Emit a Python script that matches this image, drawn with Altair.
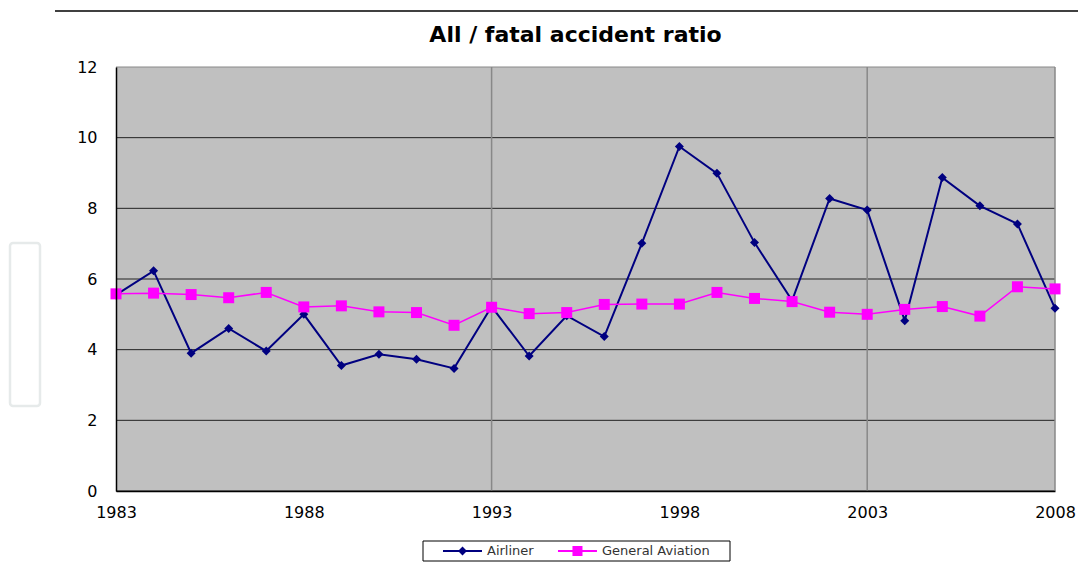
import altair as alt
import pandas as pd

years = [1983, 1984, 1985, 1986, 1987, 1988, 1989, 1990, 1991, 1992, 1993, 1994, 1995,
         1996, 1997, 1998, 1999, 2000, 2001, 2002, 2003, 2004, 2005, 2006, 2007, 2008]
airliner = [5.55, 6.23, 3.90, 4.60, 3.96, 5.00, 3.55, 3.87, 3.73, 3.47, 5.22, 3.82, 4.96,
            4.37, 7.01, 9.75, 8.99, 7.03, 5.39, 8.28, 7.95, 4.82, 8.87, 8.07, 7.56, 5.17]
general_aviation = [5.58, 5.60, 5.56, 5.47, 5.62, 5.21, 5.24, 5.07, 5.05, 4.69, 5.20, 5.02, 5.05,
                    5.28, 5.29, 5.29, 5.62, 5.45, 5.36, 5.06, 5.00, 5.14, 5.22, 4.95, 5.78, 5.72]
series_names = ["Airliner", "General Aviation"]
series_colors = ["#000080", "#FF00FF"]
x_label_years = [1983, 1988, 1993, 1998, 2003, 2008]
x_grid_years = [1993, 2003, 2008]
y_ticks = [0, 2, 4, 6, 8, 10, 12]

rows = []
for name, vals in zip(series_names, [airliner, general_aviation]):
    for yr, v in zip(years, vals):
        rows.append({"year": yr, "value": v, "series": name})
df = pd.DataFrame(rows)

FONT = "DejaVu Sans"
W, H = 939, 424

# legend symbols: a short (filled, thin) line with the series marker on it
line_part = "M1.14,-0.14H6.71V0.14H1.14Z"
legend_paths = [
    line_part + "M3.93,-0.64L4.57,0L3.93,0.64L3.29,0Z",
    line_part + "M3.21,-0.71H4.64V0.71H3.21Z",
]
legend_x = [307, 422]

color_scale = alt.Scale(domain=series_names, range=series_colors)

x_enc = alt.X(
    "year:Q",
    scale=alt.Scale(domain=[1983, 2008], nice=False, zero=False),
    axis=alt.Axis(values=x_label_years, format="d", grid=False, ticks=False, title=None, zindex=1,
                  labelPadding=13, labelFlush=False, labelOverlap=False, labelBound=False),
)
y_enc = alt.Y(
    "value:Q",
    scale=alt.Scale(domain=[0, 12], nice=False),
    axis=alt.Axis(values=y_ticks, grid=False, ticks=False, title=None, labelPadding=19, zindex=1),
)

deco = pd.DataFrame({"k": [0]})
top_rule = alt.Chart(deco).mark_rule(color="#000000", strokeWidth=1.5).encode(
    x=alt.value(55 - 116), x2=alt.value(1086 - 116), y=alt.value(11 - 67)
)
side_box = alt.Chart(deco).mark_rect(fill="white", stroke="#e6eaea", strokeWidth=2.5, cornerRadius=3).encode(
    x=alt.value(10 - 116), x2=alt.value(40 - 116), y=alt.value(243 - 67), y2=alt.value(406 - 67)
)
legend_box = alt.Chart(deco).mark_rect(fill="white", stroke="black", strokeWidth=1).encode(
    x=alt.value(423 - 116), x2=alt.value(730 - 116), y=alt.value(541 - 67), y2=alt.value(561 - 67)
)
plot_bg = alt.Chart(deco).mark_rect(fill="#C0C0C0").encode(
    x=alt.value(0), x2=alt.value(W), y=alt.value(0), y2=alt.value(H)
)

hgrid = alt.Chart(pd.DataFrame({"value": y_ticks})).mark_rule(strokeWidth=1).encode(
    y=alt.Y("value:Q"),
    color=alt.condition("datum.value == 12", alt.value("#888888"), alt.value("#222222")),
)
vrules = alt.Chart(pd.DataFrame({"year": x_grid_years})).mark_rule(color="#888888", strokeWidth=1.5).encode(
    x=alt.X("year:Q")
)

lines = alt.Chart(df).mark_line().encode(
    x=x_enc,
    y=y_enc,
    color=alt.Color("series:N", scale=color_scale, legend=None),
    strokeWidth=alt.StrokeWidth("series:N", scale=alt.Scale(domain=series_names, range=[2, 1.5]), legend=None),
    order=alt.Order("year:Q"),
)

points = alt.Chart(df).mark_point(filled=True, opacity=1).encode(
    x=alt.X("year:Q"),
    y=alt.Y("value:Q"),
    color=alt.Color("series:N", scale=color_scale, legend=None),
    shape=alt.Shape("series:N", scale=alt.Scale(domain=series_names, range=["diamond", "square"]), legend=None),
    size=alt.Size("series:N", scale=alt.Scale(domain=series_names, range=[81, 121]), legend=None),
)

# legend-only layers (no rows drawn), one per series
legend_layers = []
for name, col, path, lx in zip(series_names, series_colors, legend_paths, legend_x):
    legend_layers.append(
        alt.Chart(df).transform_filter("false").mark_point(
            filled=True, opacity=1, size=196, shape=path
        ).encode(
            fill=alt.Fill(
                "series:N",
                scale=alt.Scale(domain=[name], range=[col]),
                legend=alt.Legend(
                    title=None, orient="none", legendX=lx, legendY=472,
                    direction="horizontal", padding=5,
                    symbolType=path, symbolSize=196, symbolStrokeWidth=0, symbolOpacity=1,
                    labelOffset=45, labelFont=FONT, labelFontSize=13, labelColor="#333333",
                ),
            )
        )
    )

chart = alt.layer(
    top_rule, side_box, legend_box, plot_bg, hgrid, vrules, lines, points, *legend_layers
).resolve_scale(
    shape="independent", fill="independent"
).resolve_legend(
    fill="independent"
).properties(
    width=W,
    height=H,
    background="white",
    padding={"left": 108, "top": 59, "right": 23, "bottom": 71},
    autosize=alt.AutoSizeParams(type="none"),
    title=alt.TitleParams(
        "All / fatal accident ratio",
        font=FONT,
        fontSize=22,
        fontWeight="bold",
        color="black",
        anchor="middle",
        frame="group",
        baseline="alphabetic",
        offset=-23,
        dy=31,
        dx=-10,
    ),
).configure_view(
    stroke=None
).configure_axis(
    labelFont=FONT, labelFontSize=16, labelColor="black",
    domainColor="black", domainWidth=1.5,
)

chart.save("out.html", embed_options={"renderer": "svg", "actions": False})
